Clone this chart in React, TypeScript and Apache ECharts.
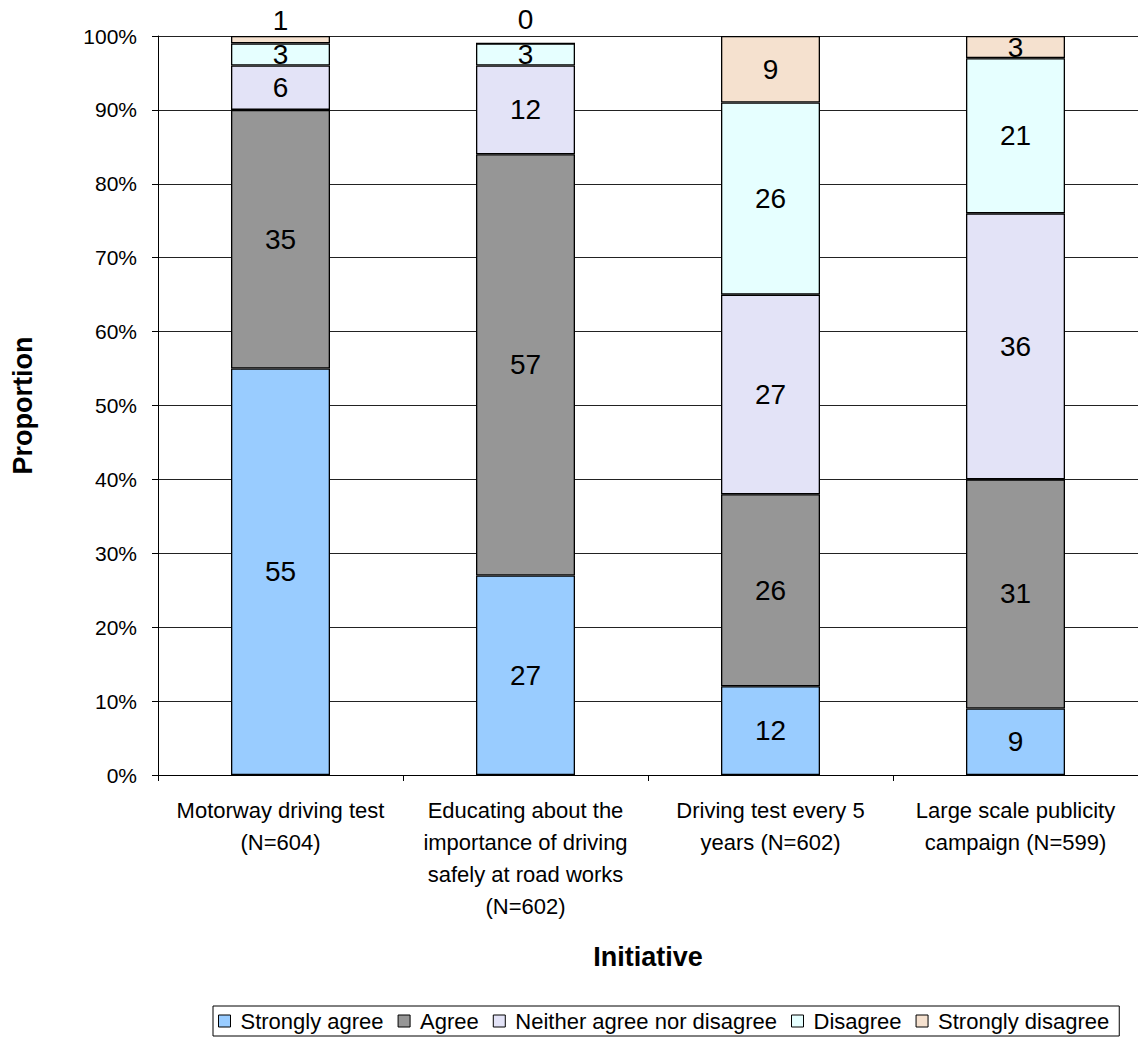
import React, { useEffect, useRef } from "react";
import * as echarts from "echarts";

// Initiatives surveyed (axis labels wrap as printed)
const categories = [
  "Motorway driving test\n(N=604)",
  "Educating about the\nimportance of driving\nsafely at road works\n(N=602)",
  "Driving test every 5\nyears (N=602)",
  "Large scale publicity\ncampaign (N=599)",
];

// Percentage of respondents per response level
const stronglyAgree = [55, 27, 12, 9];
const agree = [35, 57, 26, 31];
const neither = [6, 12, 27, 36];
const disagree = [3, 3, 26, 21];
const stronglyDisagree = [1, 0, 9, 3];

const seriesNames = [
  "Strongly agree",
  "Agree",
  "Neither agree nor disagree",
  "Disagree",
  "Strongly disagree",
];
const seriesValues = [stronglyAgree, agree, neither, disagree, stronglyDisagree];
const seriesColors = ["#99CCFF", "#969696", "#E3E3F7", "#E6FFFF", "#F5E1CF"];

const FONT = "'Liberation Sans', Arial, Helvetica, sans-serif";

// Very thin segments get their label placed above the bar
function labelFor(v: number) {
  if (v === 0) return { position: "top", distance: 9 };
  if (v < 2) return { position: "top", distance: 2 };
  return undefined;
}

export default function App() {
  const ref = useRef<HTMLDivElement>(null);

  useEffect(() => {
    if (!ref.current) return;
    const chart = echarts.init(ref.current, undefined, { renderer: "svg" });

    const series = seriesNames.map((name, si) => ({
      name,
      type: "bar",
      stack: "total",
      barWidth: 99,
      itemStyle: { color: seriesColors[si], borderColor: "#000", borderWidth: 1.3 },
      label: {
        show: true,
        position: "inside",
        color: "#000",
        fontFamily: FONT,
        fontSize: 28,
        formatter: (p: any) => String(p.value),
      },
      emphasis: { disabled: true },
      data: seriesValues[si].map((v) => {
        const lbl = labelFor(v);
        return lbl ? { value: v, label: lbl } : { value: v };
      }),
    }));

    chart.setOption({
      animation: false,
      textStyle: { fontFamily: FONT, color: "#000" },
      grid: { left: 158, right: -3, top: 36, bottom: 270, containLabel: false },
      legend: {
        left: 213,
        top: 1006,
        itemWidth: 12,
        itemHeight: 12,
        itemGap: 14,
        icon: "rect",
        borderColor: "#000",
        borderWidth: 1,
        padding: [4, 10, 4, 5],
        itemStyle: { borderColor: "#000", borderWidth: 1 },
        textStyle: { fontFamily: FONT, fontSize: 22, color: "#000", padding: [0, 0, 0, 5] },
        data: seriesNames,
      },
      xAxis: {
        type: "category",
        data: categories,
        name: "Initiative",
        nameLocation: "middle",
        nameGap: 168,
        nameTextStyle: { fontFamily: FONT, fontSize: 27, fontWeight: "bold", color: "#000" },
        axisLine: { lineStyle: { color: "#000", width: 1 } },
        axisTick: { show: true, alignWithLabel: false, length: 6, lineStyle: { color: "#000" } },
        axisLabel: {
          interval: 0,
          margin: 19,
          fontFamily: FONT,
          fontSize: 22,
          lineHeight: 32,
          color: "#000",
        },
      },
      yAxis: {
        type: "value",
        min: 0,
        max: 100,
        interval: 10,
        name: "Proportion",
        nameLocation: "middle",
        nameRotate: 90,
        nameGap: 122,
        nameTextStyle: { fontFamily: FONT, fontSize: 27, fontWeight: "bold", color: "#000" },
        axisLine: { show: true, lineStyle: { color: "#000", width: 1 } },
        axisTick: { show: true, length: 6, lineStyle: { color: "#000" } },
        axisLabel: {
          formatter: "{value}%",
          margin: 21,
          fontFamily: FONT,
          fontSize: 21,
          color: "#000",
        },
        splitLine: { show: true, lineStyle: { color: "#222", width: 1 } },
      },
      series,
    });

    return () => chart.dispose();
  }, []);

  return (
    <div
      ref={ref}
      style={{ position: "fixed", left: 0, top: 0, width: 1138, height: 1045, background: "#fff" }}
    />
  );
}
